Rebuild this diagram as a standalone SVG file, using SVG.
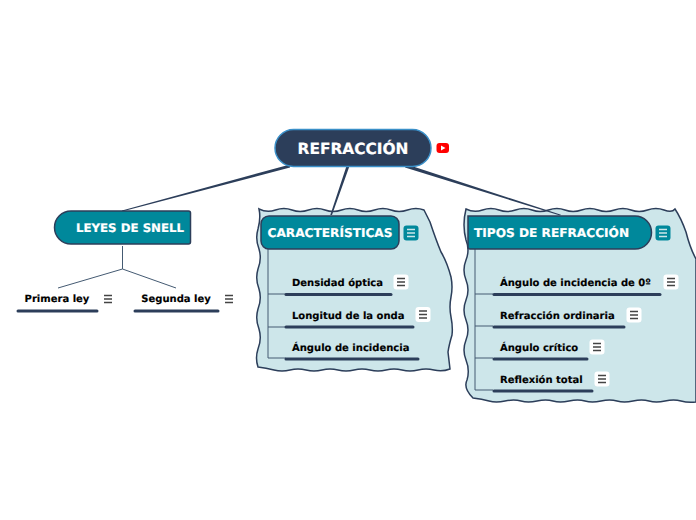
<svg xmlns="http://www.w3.org/2000/svg" width="696" height="520" viewBox="0 0 696 520">
<style>
text{font-family:"DejaVu Sans",Verdana,sans-serif;font-weight:700;text-rendering:geometricPrecision}
.panel{fill:#cde6ea;stroke:#2c3e5a;stroke-width:1.5}
.main{fill:#2c3e5a;stroke:none}
.thin{stroke:#445a72;stroke-width:1;fill:none}
.under{stroke:#2c3e5a;stroke-width:3;stroke-linecap:round;fill:none}
.teal{fill:#00889b;stroke:#2c3e5a;stroke-width:1.5}
.wt{fill:#fff;stroke:#fff;stroke-width:.2px;font-size:12.15px}
.bt{fill:#000;stroke:#000;stroke-width:.15px;font-size:10px}
.ic{stroke:#444;stroke-width:1.4}
.ict{stroke:#cde6ea;stroke-width:1.3}
</style>
<defs>
<g id="menu"><rect x="-7.500" y="-7.500" width="15" height="15" rx="3" fill="#fff"/><path class="ic" d="M-4-3.500H4M-4 0H4M-4 3.500H4"/></g>
<g id="menub"><path class="ic" d="M-4-3.500H4M-4 0H4M-4 3.500H4"/></g>
<g id="menut"><rect x="-7.500" y="-7.500" width="15" height="15" rx="3" fill="#00889b"/><path class="ict" d="M-4-3.500H4M-4 0H4M-4 3.500H4"/></g>
</defs>
<g id="panel-caracteristicas">
<path class="panel" d="M259 209q8 4 16.500 1t16.500 0t16.500 0t16.500 0t16.500 0t16.500 0t16.500 0t16.500 0t16.500 0t16.500 0L430 222Q436 240 441 252Q447 262 451 277Q453 287 451 297Q449 307 451 317Q453 327 452 335Q449 345 448 352L450 369q-8 3 -16 1t-16 0t-16 0t-16 0t-16 0t-16 0t-16 0t-16 0t-16 0t-16 0t-16 0t-16 -3Q255 358 258 349Q262 339 259 329Q255 319 258 309Q262 299 259 289Q255 279 258 269Q262 259 259 249Q255 239 258 229Q261 218 259 209Z"/>
<path class="thin" d="M268 248V358H286M268 294H286M268 327H286"/>
</g>
<g id="panel-tipos">
<path class="panel" d="M466 209q8 4 16.500 1t16.500 0t16.500 0t16.500 0t16.500 0t16.500 0t16.500 0t16.500 0t16.500 0t16.500 0t16.500 0t16.500 0t11 -1Q681 218 686 232Q690 248 696 259V402q-8 1-15 -1t-16 0t-16 0t-16 0t-16 0t-16 0t-16 0t-16 0t-16 0t-16 0t-16 0t-16 0t-16 0t-16 -3Q463 388 467 380Q470 370 466 360Q462 350 466 340Q470 330 466 320Q462 310 466 300Q470 290 466 280Q462 270 466 260Q470 250 466 240Q462 225 466 209Z"/>
<path class="thin" d="M475 248V390H493M475 294H493M475 326H493M475 358H493"/>
</g>
<g id="connectors">
<path class="main" d="M290 164.500L290 167.500L122 211.400L122 210.500ZM346.500 166L349.500 166L332 215L330.300 215ZM407 164.500L561 214.800L560 215.500L405 167.500Z"/>
<path class="thin" d="M122.500 246V269L58 288M122.500 269L176 288"/>
</g>
<g id="node-refraccion">
<rect x="275" y="129.500" width="156" height="37" rx="18.500" fill="#2c3e5a" stroke="#3a8fc8" stroke-width="1.500"/>
<text x="353" y="154" text-anchor="middle" fill="#fff" stroke="#fff" stroke-width=".2" style="font-size:15.400px">REFRACCIÓN</text>
<rect x="436.500" y="143" width="12.500" height="10" rx="3" fill="#f00"/>
<path d="M441 145.500L445.500 148L441 150.500Z" fill="#fff"/>
</g>
<g id="node-leyes">
<path class="teal" d="M71 211H188.500Q190.500 211 190.500 213V242Q190.500 244 188.500 244H71A16.500 16.500 0 0 1 71 211Z"/>
<text class="wt" x="130" y="232" text-anchor="middle" style="font-size:11.800px">LEYES DE SNELL</text>
</g>
<g id="node-primera">
<text class="bt" x="57" y="302" text-anchor="middle">Primera ley</text>
<path class="under" d="M18 311H97"/>
<use href="#menub" x="108" y="299"/>
</g>
<g id="node-segunda">
<text class="bt" x="176" y="302" text-anchor="middle">Segunda ley</text>
<path class="under" d="M135 311H218"/>
<use href="#menub" x="229" y="299"/>
</g>
<g id="node-caracteristicas">
<rect class="teal" x="261" y="216" width="138" height="33" rx="8"/>
<text class="wt" x="330" y="237" text-anchor="middle">CARACTERÍSTICAS</text>
<use href="#menut" x="411" y="233"/>
</g>
<g id="node-densidad">
<text class="bt" x="292" y="286">Densidad óptica</text>
<path class="under" d="M286 294.500H391"/>
<use href="#menu" x="401" y="282"/>
</g>
<g id="node-longitud">
<text class="bt" x="292" y="319">Longitud de la onda</text>
<path class="under" d="M286 327H413"/>
<use href="#menu" x="423" y="314.500"/>
</g>
<g id="node-angulo">
<text class="bt" x="292" y="351">Ángulo de incidencia</text>
<path class="under" d="M286 359H418"/>
</g>
<g id="node-tipos">
<path class="teal" d="M468 216H635A16.500 16.500 0 0 1 635 249H470Q468 249 468 247Z"/>
<text class="wt" x="474" y="237">TIPOS DE REFRACCIÓN</text>
<use href="#menut" x="663" y="233"/>
</g>
<g id="node-angulo0">
<text class="bt" x="500" y="286">Ángulo de incidencia de 0º</text>
<path class="under" d="M494 294.500H660"/>
<use href="#menu" x="671" y="282"/>
</g>
<g id="node-ordinaria">
<text class="bt" x="500" y="319">Refracción ordinaria</text>
<path class="under" d="M494 327H624"/>
<use href="#menu" x="634" y="315"/>
</g>
<g id="node-critico">
<text class="bt" x="500" y="351">Ángulo crítico</text>
<path class="under" d="M494 359H587"/>
<use href="#menu" x="597" y="347"/>
</g>
<g id="node-reflexion">
<text class="bt" x="500" y="383">Reflexión total</text>
<path class="under" d="M494 391H592"/>
<use href="#menu" x="602" y="379"/>
</g>
</svg>
